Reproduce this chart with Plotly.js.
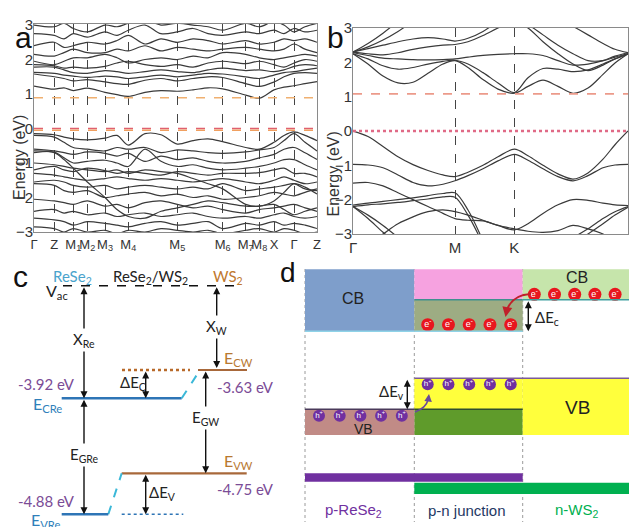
<!DOCTYPE html>
<html><head><meta charset="utf-8">
<script src="https://cdn.plot.ly/plotly-3.0.1.min.js"></script>
<style>html,body{margin:0;padding:0;background:#fff;}#chart{width:629px;height:527px;}</style>
</head><body><div id="chart"></div>
<script>
const N = null;
// ---------- Panel a: ReSe2 band structure ----------
const kPathA = [0, 20.3, 30, 39.3, 53.3, 71, 83, 94.3, 111, 127, 143.3, 159, 174, 188.7, 211.7, 225.3, 240, 250, 260, 271, 283];
const kTicksA = [0, 20.3, 39.3, 53.3, 71, 94.3, 143.3, 188.7, 211.7, 225.3, 240, 260, 283];
const kLabelsA = ['Γ','Z','M<sub>1</sub>','M<sub>2</sub>','M<sub>3</sub>','M<sub>4</sub>','M<sub>5</sub>','M<sub>6</sub>','M<sub>7</sub>','M<sub>8</sub>','X','Γ','Z'];
const reSe2Conduction = [
 [1.23,1.14,1.18,1.1,1.17,1.05,0.98,0.93,1.05,1.1,1.08,1.12,1.18,1.15,0.97,0.88,1.12,1.2,1.24,1.3,1.36],
 [1.58,1.5,1.45,1.38,1.42,1.35,1.3,1.28,1.4,1.45,1.38,1.45,1.5,1.48,1.3,1.22,1.35,1.5,1.6,1.62,1.6],
 [1.63,1.6,1.55,1.52,1.48,1.52,1.5,1.45,1.5,1.55,1.5,1.55,1.6,1.58,1.5,1.45,1.55,1.62,1.65,1.7,1.75],
 [1.78,1.78,1.7,1.62,1.6,1.68,1.65,1.6,1.65,1.7,1.65,1.62,1.7,1.75,1.68,1.7,1.65,1.7,1.8,1.85,1.82],
 [1.85,1.82,1.75,1.78,1.75,1.8,1.9,1.95,1.85,1.8,1.85,1.78,1.9,1.95,1.88,1.95,1.85,1.78,1.9,2.0,1.95],
 [1.95,1.85,1.95,2.05,2.05,2.15,2.05,1.9,2.0,2.05,2.0,2.1,2.05,2.2,2.15,2.05,2.0,2.05,2.1,2.15,2.1],
 [2.15,2.1,2.2,2.3,2.2,2.2,2.3,2.25,2.4,2.25,2.35,2.3,2.25,2.3,2.35,2.3,2.25,2.3,2.45,2.3,2.2],
 [2.4,2.5,2.35,2.4,2.5,2.45,2.55,2.7,2.45,2.6,2.5,2.6,2.55,2.45,2.55,2.45,2.5,2.6,2.55,2.6,2.5],
 [2.75,2.7,2.6,2.75,2.65,2.8,2.7,2.85,3.0,2.75,2.8,2.9,2.75,2.7,2.8,2.75,2.85,2.75,2.9,2.8,2.85],
 [3.0,2.95,3.05,2.9,2.8,3.0,2.95,3.05,3.15,3.0,3.05,3.0,2.95,2.85,3.05,2.95,3.1,3.0,2.8,2.95,3.05]
];
const reSe2Valence = [
 [-0.15,-0.18,-0.25,-0.3,-0.33,-0.28,-0.2,-0.48,-0.15,-0.18,-0.45,-0.35,-0.3,-0.38,-0.55,-0.6,-0.4,-0.2,-0.1,-0.2,-0.35],
 [-0.2,-0.25,-0.4,-0.55,-0.6,-0.65,-0.55,-0.6,-0.55,-0.7,-0.62,-0.65,-0.7,-0.72,-0.68,-0.62,-0.55,-0.35,-0.15,-0.4,-0.65],
 [-0.6,-0.65,-0.7,-0.75,-0.68,-0.72,-0.8,-0.72,-0.95,-0.8,-0.9,-0.85,-0.95,-1.0,-0.95,-0.85,-0.75,-0.6,-0.55,-0.7,-0.9],
 [-0.7,-0.68,-0.85,-1.0,-0.95,-0.92,-1.0,-1.1,-0.6,-0.95,-1.1,-1.05,-1.15,-1.2,-1.15,-1.1,-1.0,-0.9,-0.9,-1.05,-1.2],
 [-1.2,-1.1,-1.2,-1.25,-1.15,-1.22,-1.3,-1.25,-1.3,-1.35,-1.25,-1.3,-1.35,-1.3,-1.3,-1.28,-1.2,-1.15,-1.3,-1.3,-1.4],
 [-1.3,-1.35,-1.4,-1.45,-1.5,-1.45,-1.4,-1.45,-1.5,-1.45,-1.5,-1.55,-1.5,-1.45,-1.55,-1.6,-1.5,-1.4,-1.5,-1.6,-1.55],
 [-1.55,-1.5,-1.55,-1.65,-1.7,-1.65,-1.75,-1.7,-1.65,-1.7,-1.75,-1.7,-1.75,-1.6,-1.8,-1.75,-1.7,-1.65,-1.6,-1.75,-1.8],
 [-1.6,-1.65,-1.8,-1.85,-1.8,-2.0,-1.95,-1.9,-1.85,-1.95,-1.9,-2.0,-1.95,-2.05,-2.0,-1.95,-1.85,-1.9,-1.95,-1.85,-1.75],
 [-0.65,-0.7,-0.9,-1.15,-1.55,-2.0,-2.35,-2.55,-2.6,-2.4,-2.3,-2.2,-2.1,-2.15,-2.25,-2.25,-2.2,-2.35,-2.5,-2.4,-2.3],
 [-2.05,-2.1,-2.15,-2.2,-2.1,-2.25,-2.2,-2.3,-2.15,-2.1,-2.2,-2.3,-2.25,-2.35,-2.45,-2.35,-2.3,-2.25,-2.2,-2.3,-2.4],
 [-2.4,-2.35,-2.45,-2.4,-2.5,-2.45,-2.55,-2.5,-2.45,-2.55,-2.5,-2.45,-2.55,-2.6,-2.55,-2.6,-2.5,-2.45,-2.55,-2.6,-2.55],
 [-2.6,-2.65,-2.7,-2.8,-2.7,-2.75,-2.8,-2.85,-2.75,-2.7,-2.8,-2.75,-2.7,-2.9,-2.75,-2.8,-2.7,-2.8,-2.75,-2.8,-2.9],
 [-2.85,-2.9,-3.0,-2.9,-3.0,-2.95,-3.05,-2.95,-3.0,-2.9,-2.95,-3.0,-2.95,-3.05,-2.95,-2.9,-3.0,-2.9,-2.95,-3.05,-3.0],
 [-1.0,-1.05,-1.1,-1.15,-1.2,-1.25,-1.2,-1.3,-1.2,-1.25,-1.3,-1.45,-1.6,-1.75,-2.2,-2.25,-2.1,-1.85,-1.6,-1.7,-1.9]
];
const reSe2GapLines = [0.89, 0, -0.05];

// ---------- Panel b: WS2 band structure ----------
const kPathB = [0,0.15,0.3,0.45,0.6,0.75,0.9,1.02,1.15,1.3,1.45,1.613,1.75,1.9,2.05,2.2,2.35,2.5,2.62,2.75];
const kTicksB = [0, 1.02, 1.613, 2.75];
const kLabelsB = ['Γ','M','K','Γ'];
const ws2Conduction = [
 [2.25,1.95,1.6,1.4,1.42,1.68,1.95,2.05,1.85,1.5,1.22,1.1,1.3,1.48,1.3,1.1,1.25,1.65,1.98,2.25],
 [2.25,2.1,1.9,1.8,1.85,1.95,2.03,2.06,1.95,1.7,1.4,1.12,1.55,1.82,1.8,1.73,1.78,1.95,2.1,2.25],
 [2.28,2.2,2.12,2.1,2.08,2.07,2.08,2.1,2.15,2.2,2.23,2.25,2.25,2.2,2.05,1.92,1.95,2.05,2.18,2.28],
 [2.3,2.25,2.22,2.28,2.38,2.45,2.5,2.52,2.6,2.78,3.0,3.2,N,N,N,N,N,N,N,N],
 [2.3,2.4,2.5,2.6,2.68,2.72,2.68,2.62,2.7,2.9,3.2,N,N,N,N,N,N,N,N,N],
 [2.3,2.55,2.85,3.2,N,N,N,N,N,N,N,N,N,N,N,N,N,N,N,N],
 [2.3,2.45,2.65,2.9,3.2,N,N,N,N,N,N,N,N,N,N,N,N,N,N,N],
 [N,N,N,N,N,N,N,N,N,N,3.4,3.2,3.0,2.6,2.25,1.95,1.76,1.92,2.1,2.25],
 [N,N,N,N,N,N,N,N,N,N,N,3.3,3.1,2.8,2.5,2.25,2.05,2.05,2.15,2.25],
 [N,N,N,N,N,N,N,N,N,N,N,N,N,N,3.3,3.05,2.8,2.55,2.38,2.28]
];
const ws2Valence = [
 [0,-0.16,-0.45,-0.75,-0.98,-1.15,-1.28,-1.33,-1.2,-1.0,-0.75,-0.53,-0.72,-1.0,-1.25,-1.4,-1.22,-0.82,-0.4,0],
 [-0.97,-0.99,-1.07,-1.28,-1.5,-1.6,-1.55,-1.45,-1.3,-1.1,-0.87,-0.68,-0.85,-1.1,-1.33,-1.45,-1.3,-1.07,-0.99,-0.97],
 [-1.52,-1.5,-1.6,-1.8,-2.0,-2.2,-2.4,-2.55,-2.6,-2.62,-2.75,-2.88,-2.7,-2.4,-2.15,-2.0,-2.02,-2.1,-2.15,-2.17],
 [-2.16,-2.1,-2.05,-2.0,-1.95,-1.88,-1.82,-1.8,-2.3,-3.2,N,N,N,N,N,N,N,N,N,N],
 [-2.2,-2.15,-2.12,-2.08,-2.03,-1.98,-1.92,-1.93,-2.45,-3.3,N,N,N,N,N,N,N,N,N,N],
 [-2.2,-2.45,-2.75,-3.1,N,N,N,N,N,N,N,N,N,N,N,N,N,N,N,N],
 [-2.2,-2.55,-2.95,-3.3,N,N,N,N,N,N,N,N,N,N,N,N,N,N,N,N],
 [N,-3.3,-3.0,-2.7,-2.5,-2.35,-2.3,-2.35,-2.45,-2.6,-2.75,-2.85,-2.92,-2.95,-2.9,-2.75,-2.85,-3.0,-3.2,N],
 [N,N,N,N,N,N,N,N,N,N,N,N,N,N,-3.3,-3.1,-2.85,-2.55,-2.35,-2.2],
 [N,N,N,N,N,N,N,N,N,N,N,N,N,N,N,-3.3,-3.0,-2.7,-2.45,-2.22]
];
const ws2GapLines = [1.08, 0];

// ---------- Panel c: band alignment ----------
const levelNames = ['E<sub>CRe</sub>','E<sub>CW</sub>','E<sub>VRe</sub>','E<sub>VW</sub>'];
const levelValues = [-3.92, -3.63, -4.88, -4.75];

// ---------- Panel d: p-n junction ----------
const regionLabels = ['p-ReSe<sub>2</sub>','p-n junction','n-WS<sub>2</sub>'];
const carriersPerGroup = 5;

// ================= drawing =================
const W = 629, H = 527;
const SANS = 'Liberation Sans, Arial, sans-serif';
const CAL = 'Lato, Open Sans, sans-serif';
const traces = [];
const bandStyle = {color:'#3a3a3a', width:1.2, shape:'spline', smoothing:0.9};
reSe2Conduction.concat(reSe2Valence).forEach(b => traces.push({x:kPathA, y:b, xaxis:'x', yaxis:'y', mode:'lines', line:bandStyle, hoverinfo:'skip', connectgaps:false}));
ws2Conduction.concat(ws2Valence).forEach(b => traces.push({x:kPathB, y:b, xaxis:'x2', yaxis:'y2', mode:'lines', line:bandStyle, hoverinfo:'skip', connectgaps:false}));

const shapes = [];
const ann = [];
const gapColorsA = ['#f0b070','#e0606e','#f0a060'];
reSe2GapLines.forEach((e,i) => shapes.push({type:'line', xref:'x', yref:'y', x0:0, x1:283, y0:e, y1:e, line:{color:gapColorsA[i], width:1.6, dash:'dash'}}));
const gapColorsB = ['#ec9a8a','#e06a86'];
ws2GapLines.forEach((e,i) => shapes.push({type:'line', xref:'x2', yref:'y2', x0:0, x1:2.75, y0:e, y1:e, line:{color:gapColorsB[i], width:i===1?2.6:1.6, dash:i===1?'dot':'dash'}}));

function L(x0,y0,x1,y1,color,width,dash,layer){shapes.push({type:'line',xref:'x3',yref:'y3',x0,y0,x1,y1,line:{color,width,dash:dash||'solid'},layer:layer||'above'});}
function R(x0,y0,x1,y1,fill){shapes.push({type:'rect',xref:'x3',yref:'y3',x0,y0,x1,y1,fillcolor:fill,line:{width:0},layer:'below'});}
function T(x,y,text,size,color,opts){ann.push(Object.assign({xref:'x3',yref:'y3',x,y,text,showarrow:false,font:{size,color,family:CAL}},opts||{}));}
function A2(x,y0,y1,color,w){ann.push({xref:'x3',yref:'y3',axref:'x3',ayref:'y3',x:x,y:y1,ax:x,ay:y0,text:'',showarrow:true,arrowhead:2,arrowside:'end+start',arrowsize:1,arrowwidth:w||1.4,arrowcolor:color||'#111',standoff:0,startstandoff:0});}
function A1(x,y,ax,ay,color,w){ann.push({xref:'x3',yref:'y3',axref:'x3',ayref:'y3',x,y,ax,ay,text:'',showarrow:true,arrowhead:2,arrowsize:1,arrowwidth:w||1.4,arrowcolor:color,standoff:0,startstandoff:0});}

// ---- panel c ----
const yVac = 285.7, yLev = {'E<sub>CRe</sub>':398.3,'E<sub>CW</sub>':370,'E<sub>VRe</sub>':514.3,'E<sub>VW</sub>':473.3};
const reC = '#2e75b6', wsC = '#a8683a', cyan = '#3bb8d8';
L(63,yVac,243,yVac,'#111',1.5,'dash');
L(61.7,yLev['E<sub>CRe</sub>'],181.7,yLev['E<sub>CRe</sub>'],reC,2.6);
L(181.7,yLev['E<sub>CRe</sub>'],200,yLev['E<sub>CW</sub>'],cyan,2,'dash');
L(198,yLev['E<sub>CW</sub>'],247,yLev['E<sub>CW</sub>'],wsC,2.2);
L(122,yLev['E<sub>CW</sub>'],190,yLev['E<sub>CW</sub>'],'#b86a2a',2.6,'dot');
L(121.7,yLev['E<sub>VW</sub>'],246.7,yLev['E<sub>VW</sub>'],wsC,2.2);
L(108.3,yLev['E<sub>VRe</sub>'],121.7,yLev['E<sub>VW</sub>'],cyan,2,'dash');
L(61.7,yLev['E<sub>VRe</sub>'],108.3,yLev['E<sub>VRe</sub>'],reC,2.6);
L(121.7,yLev['E<sub>VRe</sub>'],183.3,yLev['E<sub>VRe</sub>'],reC,1.6,'dot');
A2(84,yVac,yLev['E<sub>CRe</sub>']);
A2(84,yLev['E<sub>CRe</sub>'],yLev['E<sub>VRe</sub>']);
A2(216.7,yVac,368);
A2(205.7,yLev['E<sub>CW</sub>'],yLev['E<sub>VW</sub>']);
A2(145.7,yLev['E<sub>CW</sub>'],yLev['E<sub>CRe</sub>']);
A2(145.7,yLev['E<sub>VW</sub>'],yLev['E<sub>VRe</sub>']);
T(20,276,'c',30,'#111',{font:{size:30,color:'#111',family:SANS}});
T(72,277,'ReSe<sub>2</sub>',15,'#4aa3cc');
T(150,277,'ReSe<sub>2</sub>/WS<sub>2</sub>',15,'#222');
T(228,277,'WS<sub>2</sub>',15,'#c0782e');
T(57,291,'V<sub>ac</sub>',16,'#222');
T(84,340,'X<sub>Re</sub>',15,'#222',{bgcolor:'white'});
T(84,455,'E<sub>GRe</sub>',15,'#222',{bgcolor:'white'});
T(216.7,327,'X<sub>W</sub>',15,'#222',{bgcolor:'white'});
T(205.7,418,'E<sub>GW</sub>',15,'#222',{bgcolor:'white'});
T(148,383,'ΔE<sub>C</sub>',15,'#222',{xanchor:'right'});
T(147,493,'ΔE<sub>V</sub>',15,'#222',{xanchor:'left'});
const purple = '#7b4c96';
const levelLabelPos = [[47,404,'#2f7fba','center'],[222,358,'#b87830','left'],[45,520,'#2f7fba','center'],[222,461,'#b87830','left']];
const valuePos = [[46,384],[245,387],[46,501],[245,489]];
levelNames.forEach((n,i) => {
  T(levelLabelPos[i][0],levelLabelPos[i][1],n,16,levelLabelPos[i][2],{xanchor:levelLabelPos[i][3]});
  T(valuePos[i][0],valuePos[i][1],levelValues[i].toFixed(2)+' eV',15,purple);
});

// ---- panel d ----
const c0=305,c1=414.3,c2=522.7,c3=629;
[c0,c1,c2].forEach(x => L(x,269,x,522,'#9a9a9a',1,'dot','below'));
R(c0,269.3,c1,331.3,'#7e9ecb');
R(c1,269.3,c2,299.7,'#f6a2e0');
R(c1,299.7,c2,331.3,'#9dac83');
R(c2,269.3,c3,299.7,'#c6e5ab');
R(c1,378.3,c2,409.3,'#ffff3c');
R(c1,409.3,c2,435,'#5f9b2b');
R(c2,378.3,c3,435,'#ffff3c');
R(c0,409.3,c1,435,'#c18b86');
R(c0,473.3,c2,481.7,'#7030a0');
R(c1,482.7,c3,494,'#00b050');
L(c0,331.3,c1,331.3,'#8fd3e8',1.5);
L(c1,299.7,c2,299.7,'#3f8f8f',1.5);
L(c1,331.3,c2,331.3,'#8fd3e8',1.5);
L(c2,299.7,c3,299.7,'#3f9f9f',1.5);
L(c1,378.3,c3,378.3,'#7a5a9a',1.5);
L(c1,409.3,c2,409.3,'#2f4f2f',1.5);
L(c0,409.3,c1,409.3,'#4a3a5a',1.5);
shapes.push({type:'path',xref:'x3',yref:'y3',path:'M 531 294 Q 512 295 507 310',line:{color:'#c0202a',width:2}});
A1(505.5,317,507,309,'#c0202a',2);
shapes.push({type:'path',xref:'x3',yref:'y3',path:'M 415 412 Q 426 408 428 400',line:{color:'#6a4a9a',width:1.5}});
A1(429,394,428.3,400,'#6a4a9a',1.5);
A2(528.3,299.7,331.3);
A2(407.3,378.3,409.3);
T(533,318,'ΔE<sub>c</sub>',15,'#222',{xanchor:'left'});
T(406,392,'ΔE<sub>v</sub>',15,'#222',{xanchor:'right'});
T(353,298,'CB',16,'#222',{font:{size:16,color:'#222',family:SANS}});
T(577,277,'CB',16,'#222',{font:{size:16,color:'#222',family:SANS}});
T(577,407,'VB',19,'#222',{font:{size:19,color:'#222',family:SANS}});
T(363,429,'VB',14,'#222',{font:{size:14,color:'#222',family:SANS}});
T(288,272,'d',28,'#111',{font:{size:28,color:'#111',family:SANS}});
const regionX = [353,467,577], regionColors = ['#7030a0','#1f3864','#00b050'];
regionLabels.forEach((t,i) => T(regionX[i],510,t,15,regionColors[i],{font:{size:15,color:regionColors[i],family:SANS}}));

function group(x0,step,y){const xs=[],ys=[];for(let i=0;i<carriersPerGroup;i++){xs.push(x0+i*step);ys.push(y);}return [xs,ys];}
const eA = group(427.7,20.75,324.7), eB = group(534.3,20.2,294.3);
const hA = group(427.7,20.75,384.3), hB = group(319,20.7,415.7);
traces.push({x:eA[0].concat(eB[0]), y:eA[1].concat(eB[1]), xaxis:'x3', yaxis:'y3', mode:'markers+text', marker:{size:13,color:'#e8161e'}, text:Array(10).fill('e<sup>-</sup>'), textposition:'middle center', textfont:{size:9,color:'white',family:SANS}, hoverinfo:'skip', cliponaxis:false});
traces.push({x:hA[0].concat(hB[0]), y:hA[1].concat(hB[1]), xaxis:'x3', yaxis:'y3', mode:'markers+text', marker:{size:12,color:'#7030a0'}, text:Array(10).fill('h<sup>+</sup>'), textposition:'middle center', textfont:{size:8,color:'white',family:SANS}, hoverinfo:'skip', cliponaxis:false});

ann.push({xref:'paper',yref:'paper',x:9/W,y:1-113/H,text:'Energy (eV)',textangle:-90,showarrow:false,font:{size:16,color:'#333',family:SANS}});
ann.push({xref:'paper',yref:'paper',x:333/W,y:1-130/H,text:'Energy (eV)',textangle:-90,showarrow:false,font:{size:16,color:'#333',family:SANS}});
ann.push({xref:'paper',yref:'paper',x:13/W,y:1-19/H,text:'a',showarrow:false,font:{size:30,color:'#111',family:SANS}});
ann.push({xref:'paper',yref:'paper',x:335/W,y:1-19/H,text:'b',showarrow:false,font:{size:30,color:'#111',family:SANS}});

const axBase = {showgrid:false, zeroline:false, showline:true, mirror:true, linecolor:'#8a8a8a', linewidth:1, ticks:'', tickfont:{size:15,color:'#333',family:SANS}, fixedrange:true, tickangle:0};
const layout = {
  width:W, height:H, margin:{l:0,r:0,t:0,b:0,pad:0},
  paper_bgcolor:'white', plot_bgcolor:'rgba(0,0,0,0)', showlegend:false,
  font:{family:SANS,color:'#333'},
  xaxis:Object.assign({}, axBase, {domain:[34/W,317/W], range:[0,283], tickvals:kTicksA, ticktext:kLabelsA, showgrid:true, gridcolor:'#444', griddash:'dash', gridwidth:1, anchor:'y', tickfont:{size:13,color:'#333',family:SANS}}),
  yaxis:Object.assign({}, axBase, {domain:[1-232/H,1-24/H], range:[-3.0,3.03], tickvals:[-3,-2,-1,0,1,2,3], anchor:'x', ticklabelstandoff:-3}),
  xaxis2:Object.assign({}, axBase, {domain:[353/W,628/W], range:[0,2.75], tickvals:kTicksB, ticktext:kLabelsB, showgrid:true, gridcolor:'#444', griddash:'dash', gridwidth:1, anchor:'y2'}),
  yaxis2:Object.assign({}, axBase, {domain:[1-234/H,1-28/H], range:[-3,3], tickvals:[-3,-2,-1,0,1,2,3], anchor:'x2', ticklabelstandoff:-3}),
  xaxis3:{domain:[0,1], range:[0,W], visible:false, anchor:'y3', fixedrange:true},
  yaxis3:{domain:[0,1], range:[H,0], visible:false, anchor:'x3', fixedrange:true},
  shapes:shapes, annotations:ann
};
Plotly.newPlot('chart', traces, layout, {displayModeBar:false, staticPlot:true});
</script>
</body></html>
